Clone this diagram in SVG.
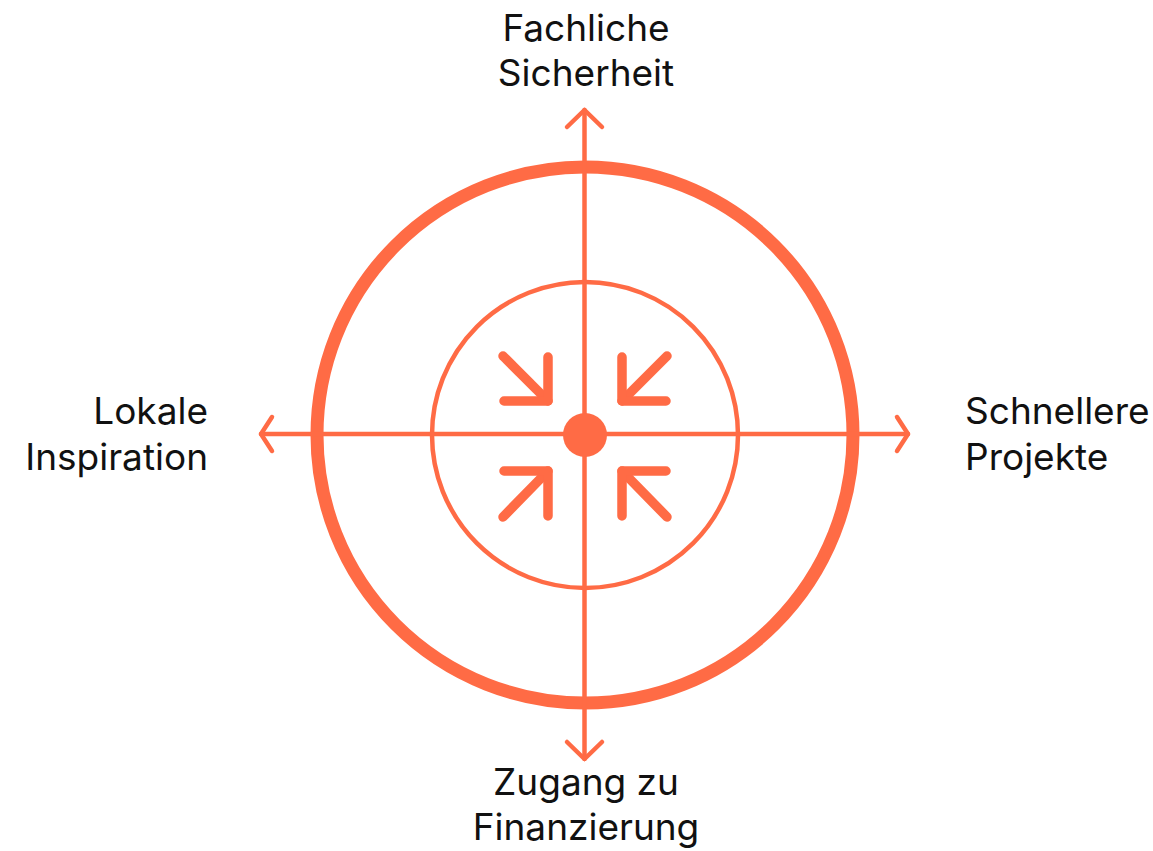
<svg xmlns="http://www.w3.org/2000/svg" width="1153" height="851" viewBox="0 0 1153 851">
<style>
.o{fill:none;stroke:#FF6B45;stroke-linecap:round;stroke-linejoin:round}
.t{font-family:Inter,"Noto Sans",sans-serif;font-size:37px;fill:#111}
</style>
<rect width="1153" height="851" fill="#fff"/>
<g id="outer-circle"><circle class="o" cx="585" cy="435" r="268" stroke-width="13"/></g>
<g id="inner-circle"><circle class="o" cx="585" cy="435" r="153" stroke-width="4.5"/></g>
<g id="connectors">
<line class="o" x1="584.5" y1="110" x2="584.5" y2="759" stroke-width="4.5"/>
<line class="o" x1="261" y1="434" x2="908" y2="434" stroke-width="4.5"/>
<polyline class="o" points="567,127 584.5,110 602,127" stroke-width="4.5"/>
<polyline class="o" points="567,742 584.5,759 602,742" stroke-width="4.5"/>
<polyline class="o" points="272,417 261,434 272,451" stroke-width="4.5"/>
<polyline class="o" points="897,417 908,434 897,451" stroke-width="4.5"/>
</g>
<g id="center-arrows">
<line class="o" x1="503" y1="356" x2="548" y2="401" stroke-width="9.5"/>
<polyline class="o" points="548,357 548,401 504,401" stroke-width="9.5"/>
<line class="o" x1="667" y1="356" x2="622" y2="401" stroke-width="9.5"/>
<polyline class="o" points="622,357 622,401 666,401" stroke-width="9.5"/>
<line class="o" x1="503" y1="517" x2="548" y2="471" stroke-width="9.5"/>
<polyline class="o" points="548,516 548,471 504,471" stroke-width="9.5"/>
<line class="o" x1="667" y1="517" x2="622" y2="471" stroke-width="9.5"/>
<polyline class="o" points="622,516 622,471 666,471" stroke-width="9.5"/>
</g>
<g id="center-dot"><circle cx="585" cy="435" r="22" fill="#FF6B45"/></g>
<g id="label-top"><text class="t" text-anchor="middle" x="586" y="41">Fachliche</text><text class="t" text-anchor="middle" x="586" y="86">Sicherheit</text></g>
<g id="label-left"><text class="t" text-anchor="end" x="208" y="424">Lokale</text><text class="t" text-anchor="end" x="208" y="470">Inspiration</text></g>
<g id="label-right"><text class="t" x="965" y="424">Schnellere</text><text class="t" x="965" y="470">Projekte</text></g>
<g id="label-bottom"><text class="t" text-anchor="middle" x="586" y="795">Zugang zu</text><text class="t" text-anchor="middle" x="586" y="840">Finanzierung</text></g>
</svg>
